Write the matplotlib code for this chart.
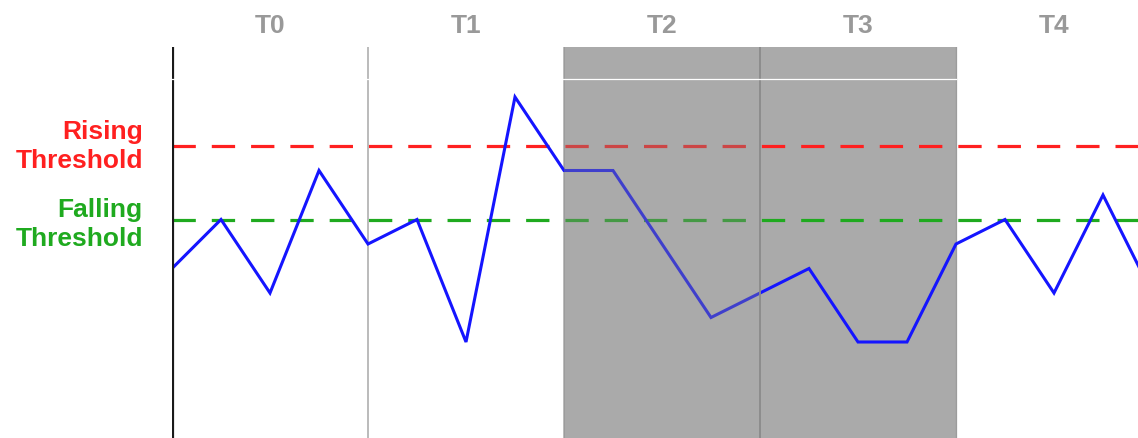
import matplotlib
matplotlib.use("Agg")
import matplotlib.pyplot as plt

# Sampling periods and the signal sampled four times per period
periods = ["T0", "T1", "T2", "T3", "T4"]
samples_per_period = 4
signal = [5, 7, 4, 9, 6, 7, 2, 12, 9, 9, 6, 3, 4, 5, 2, 2, 6, 7, 4, 8, 4]

rising_threshold = 10
falling_threshold = 7

# Periods during which the alarm is active
alarm_overlay_period = "T2"
alarm_periods = ["T2", "T3"]

W, H = 1138, 439
fig = plt.figure(figsize=(W / 100, H / 100), dpi=100)
left_px, top_px = 172, 48
ax = fig.add_axes([left_px / W, 0, (W - left_px) / W, (H - top_px) / H])

step_px = 49.0
unit_px = 24.5
ax.set_xlim(0, (W - left_px) / step_px)
ax.set_ylim(2 - (H - 343) / unit_px, 2 + (343 - top_px) / unit_px)
ax.set_axis_off()

font = "Liberation Sans"

# Shaded alarm periods; the current one also gets a translucent overlay
for p in alarm_periods:
    k = periods.index(p)
    x0, x1 = k * samples_per_period, (k + 1) * samples_per_period
    if p == alarm_overlay_period:
        ax.axvspan(x0, x1, color="#c6c6c6", lw=0, zorder=0.5)
        ax.axvspan(x0, x1, color="#808080", alpha=0.4, lw=0, zorder=6)
    else:
        ax.axvspan(x0, x1, color="#aaaaaa", lw=0, zorder=0.5)

# Period dividers
for k in range(len(periods)):
    x = k * samples_per_period
    if k == 0:
        ax.axvline(x, color="#1a1a1a", lw=2.3, zorder=8)
    elif periods[k] in alarm_periods and periods[k - 1] in alarm_periods:
        ax.axvline(x, color="#8a8a8a", lw=1.3, zorder=7)
    else:
        ax.axvline(x, color="#a8a8a8", lw=1.1, zorder=1)
ax.axvline(4 * samples_per_period, color="#9c9c9c", lw=0.9, zorder=1)

# Threshold lines
ax.axhline(rising_threshold, color="#ff2020", lw=2.3, dashes=(7.3, 5.0), zorder=2)
ax.axhline(falling_threshold, color="#1faa1f", lw=2.3, dashes=(7.3, 5.0), zorder=2)

# Sampled signal
xs = list(range(len(signal)))
ax.plot(xs, signal, color="#1515ff", lw=2.2, solid_joinstyle="miter", zorder=3)

# Thin white rule across the upper part of the plot
ax.plot([-0.1, 4 * samples_per_period], [12.73, 12.73], color="white", lw=0.9, zorder=9,
        clip_on=False)

# Period labels above the plot
for k, p in enumerate(periods):
    ax.annotate(p, xy=(k * samples_per_period + samples_per_period / 2, 1.0),
                xycoords=("data", "axes fraction"), xytext=(0, 15.8),
                textcoords="offset points", ha="center", va="center",
                fontsize=19, fontweight="bold", color="#999999",
                family=font, annotation_clip=False)

# Threshold labels to the left of the plot
for label, yv, col, dy in [("Rising\nThreshold", rising_threshold, "#ff2020", 0.5),
                           ("Falling\nThreshold", falling_threshold, "#1faa1f", -3.0)]:
    ax.annotate(label, xy=(0, yv), xycoords="data", xytext=(-21, dy),
                textcoords="offset points", ha="right", va="center",
                multialignment="right", fontsize=19, fontweight="bold",
                color=col, family=font, linespacing=1.28,
                annotation_clip=False)

fig.savefig("out.png", dpi=100, facecolor="white")
